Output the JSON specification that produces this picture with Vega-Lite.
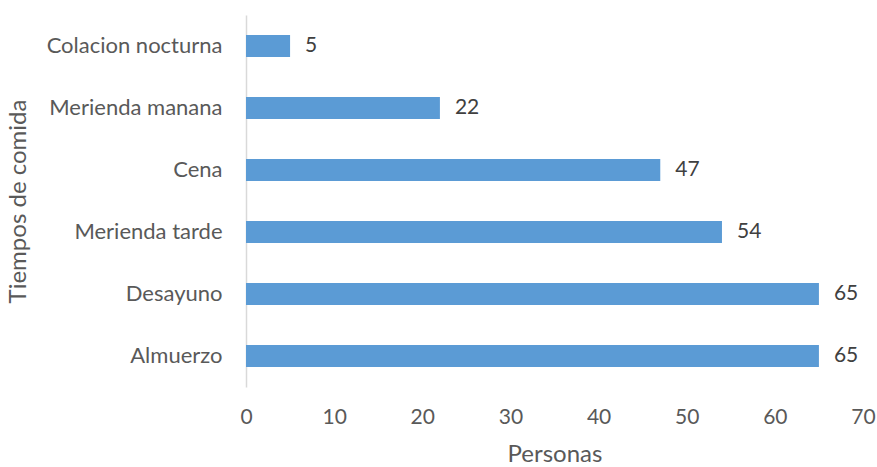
{
  "$schema": "https://vega.github.io/schema/vega-lite/v6.json",
  "width": 617,
  "height": 372,
  "autosize": "none",
  "padding": {"left": 246, "top": 15, "right": 14, "bottom": 80},
  "background": "white",
  "config": {"view": {"stroke": null}, "font": "Lato"},
  "data": {"values": [
    {"tiempo": "Colacion nocturna", "personas": 5},
    {"tiempo": "Merienda manana", "personas": 22},
    {"tiempo": "Cena", "personas": 47},
    {"tiempo": "Merienda tarde", "personas": 54},
    {"tiempo": "Desayuno", "personas": 65},
    {"tiempo": "Almuerzo", "personas": 65}
  ]},
  "encoding": {
    "y": {
      "field": "tiempo", "type": "nominal", "sort": null,
      "scale": {"paddingInner": 0.645, "paddingOuter": 0.3225},
      "axis": {
        "title": "Tiempos de comida", "titleFontSize": 24, "titleFontWeight": "normal", "titleColor": "#595959",
        "titleX": -228, "titleY": 186, "titleAngle": -90, "titleAlign": "center", "titleBaseline": "middle",
        "labelFontSize": 22, "labelColor": "#595959", "labelPadding": 24,
        "ticks": false, "domainColor": "#d9d9d9", "domainWidth": 1.5
      }
    },
    "x": {
      "field": "personas", "type": "quantitative",
      "scale": {"domain": [0, 70], "nice": false},
      "axis": {
        "title": "Personas", "titleFontSize": 24, "titleFontWeight": "normal", "titleColor": "#595959",
        "titleY": 67, "titleBaseline": "middle",
        "values": [0, 10, 20, 30, 40, 50, 60, 70],
        "labelFontSize": 21, "labelColor": "#595959", "labelPadding": 19,
        "ticks": false, "domain": false, "grid": false, "labelFlush": false
      }
    }
  },
  "layer": [
    {"mark": {"type": "bar", "color": "#5B9BD5"}},
    {"mark": {"type": "text", "align": "left", "baseline": "middle", "dx": 15, "fontSize": 21, "color": "#404040"},
     "encoding": {"text": {"field": "personas", "type": "quantitative"}}}
  ]
}
